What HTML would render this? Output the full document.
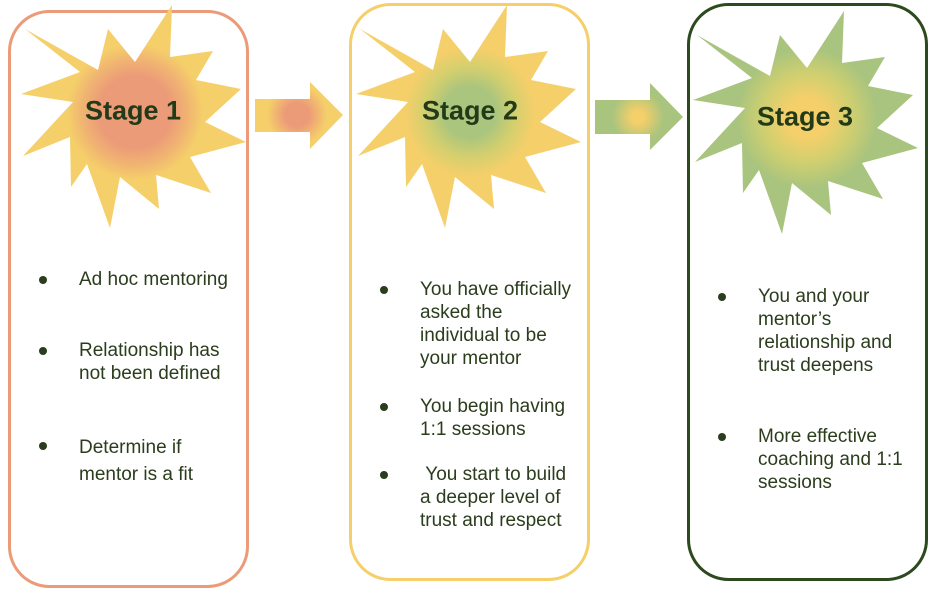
<!DOCTYPE html>
<html><head><meta charset="utf-8"><style>
html,body{margin:0;padding:0;background:#fff;width:937px;height:595px;overflow:hidden;position:relative;font-family:"Liberation Sans",sans-serif}
.t{position:absolute;font-size:19px;line-height:23px;color:#2b3d1c;white-space:nowrap}
.b{position:absolute;width:8px;height:8px;border-radius:50%;background:#2b3d1c}
.s{position:absolute;font-weight:bold;font-size:27px;color:#233a18;white-space:nowrap;transform:translate(-50%,-50%)}
</style></head><body>
<svg width="937" height="595" style="position:absolute;left:0;top:0">
<defs>
<radialGradient id="g1" gradientUnits="userSpaceOnUse" cx="0" cy="0" r="100"><stop offset="0.36" stop-color="#ec9b78"/><stop offset="0.52" stop-color="#f0b372"/><stop offset="0.68" stop-color="#f5cf6a"/></radialGradient>
<radialGradient id="g2" gradientUnits="userSpaceOnUse" cx="0" cy="0" r="100"><stop offset="0.25" stop-color="#a9c57e"/><stop offset="0.45" stop-color="#d4cf6e"/><stop offset="0.65" stop-color="#f5cf6a"/></radialGradient>
<radialGradient id="g3" gradientUnits="userSpaceOnUse" cx="0" cy="0" r="100"><stop offset="0.2" stop-color="#f5cf6a"/><stop offset="0.45" stop-color="#cfcf70"/><stop offset="0.7" stop-color="#a9c47e"/></radialGradient>
<radialGradient id="a1" gradientUnits="userSpaceOnUse" cx="297" cy="115" r="40"><stop offset="0.3" stop-color="#ec9b78"/><stop offset="0.75" stop-color="#f5cf6a"/></radialGradient>
<radialGradient id="a2" gradientUnits="userSpaceOnUse" cx="638" cy="117" r="40"><stop offset="0.15" stop-color="#f5cf6a"/><stop offset="0.65" stop-color="#a9c47e"/></radialGradient>
<polygon id="star" points="-110,-83 -37,-42 -27,-83 0,-50 37,-107 35,-55 78,-61 61,-32 106,-23 70,10 111,30 55,45 76,81 21,63 24,97 -15,65 -25,116 -48,52 -64,75 -65,25 -112,44 -62,-10 -114,-18 -55,-40"/>
</defs>
<rect x="9.5" y="11.5" width="238" height="575" rx="40" fill="none" stroke="#ec9b78" stroke-width="3"/>
<rect x="350.5" y="4.5" width="238" height="575" rx="40" fill="none" stroke="#f5cf6a" stroke-width="3"/>
<rect x="688.5" y="4.5" width="238" height="575" rx="40" fill="none" stroke="#2d4a1e" stroke-width="3"/>
<use href="#star" x="135" y="112" fill="url(#g1)"/>
<use href="#star" x="470" y="112" fill="url(#g2)"/>
<use href="#star" x="807" y="118" fill="url(#g3)"/>
<polygon points="255,99 310,99 310,82 343,115 310,149 310,132 255,132" fill="url(#a1)"/>
<polygon points="595,100 650,100 650,83 683,117 650,150 650,134 595,134" fill="url(#a2)"/>
</svg>
<div class="s" style="left:133px;top:111px">Stage 1</div>
<div class="s" style="left:470px;top:111px">Stage 2</div>
<div class="s" style="left:805px;top:117px">Stage 3</div>

<div class="b" style="left:39px;top:276px"></div>
<div class="t" style="left:79px;top:268px">Ad hoc mentoring</div>
<div class="b" style="left:39px;top:347px"></div>
<div class="t" style="left:79px;top:339px">Relationship has<br>not been defined</div>
<div class="b" style="left:39px;top:442px"></div>
<div class="t" style="left:79px;top:434px;line-height:27px">Determine if<br>mentor is a fit</div>

<div class="b" style="left:380px;top:286px"></div>
<div class="t" style="left:420px;top:278px">You have officially<br>asked the<br>individual to be<br>your mentor</div>
<div class="b" style="left:380px;top:403px"></div>
<div class="t" style="left:420px;top:395px">You begin having<br>1:1 sessions</div>
<div class="b" style="left:380px;top:471px"></div>
<div class="t" style="left:420px;top:463px">&nbsp;You start to build<br>a deeper level of<br>trust and respect</div>

<div class="b" style="left:718px;top:293px"></div>
<div class="t" style="left:758px;top:285px">You and your<br>mentor’s<br>relationship and<br>trust deepens</div>
<div class="b" style="left:718px;top:433px"></div>
<div class="t" style="left:758px;top:425px">More effective<br>coaching and 1:1<br>sessions</div>
</body></html>
